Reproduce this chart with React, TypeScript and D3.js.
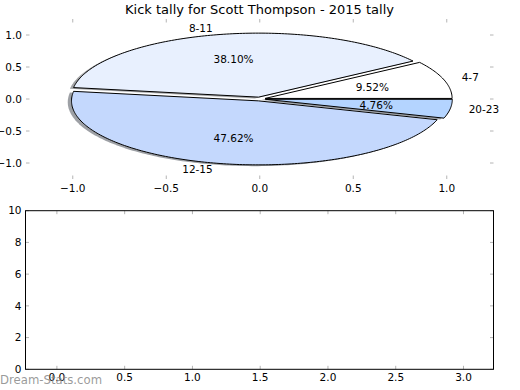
import React from 'react';
import * as d3 from 'd3';

// kick tally per distance band
const labels = ['4-7', '8-11', '12-15', '20-23'];
const kicks = [2, 8, 10, 1];
const sliceColors = ['#ffffff', '#e8f0fe', '#c4d8fd', '#b4d4ff'];
const explode = [0.03, 0.03, 0.03, 0.03];

const pieTicks = [-1, -0.5, 0, 0.5, 1];
const barXTicks = [0, 0.5, 1, 1.5, 2, 2.5, 3];
const barYTicks = [0, 2, 4, 6, 8, 10];

const W = 520;
const H = 390;
const FONT = 'DejaVu Sans';
const tickCol = '#b4b4b4';
const tickLen = 3.5;

export default function App() {
  // top panel (pie), frame hidden
  const px = d3.scaleLinear().domain([-1.25, 1.25]).range([26, 493.5]);
  const py = d3.scaleLinear().domain([-1.25, 1.25]).range([179, 19]);

  // bottom panel (empty)
  const bx = d3.scaleLinear().domain([-0.2317, 3.2214]).range([25.5, 493.5]);
  const by = d3.scaleLinear().domain([0, 10]).range([369.3, 210.7]);

  const total = d3.sum(kicks);
  const arcs = d3.pie<number>().sort(null).startAngle(0).endAngle(2 * Math.PI)(kicks);

  const line = d3.line<[number, number]>().x(p => px(p[0])).y(p => py(p[1]));

  const wedges = arcs.map((a, i) => {
    const mid = (a.startAngle + a.endAngle) / 2;
    const cx = explode[i] * Math.cos(mid);
    const cy = explode[i] * Math.sin(mid);
    const n = Math.max(4, Math.ceil((a.endAngle - a.startAngle) / (Math.PI / 180)));
    const pts: [number, number][] = [[cx, cy]];
    for (let k = 0; k <= n; k++) {
      const t = a.startAngle + (a.endAngle - a.startAngle) * k / n;
      pts.push([cx + Math.cos(t), cy + Math.sin(t)]);
    }
    const shadowPts = pts.map(p => [p[0] - 0.02, p[1] - 0.02] as [number, number]);
    const c = d3.rgb(sliceColors[i]);
    const shadowCol = d3.rgb(c.r * 0.3, c.g * 0.3, c.b * 0.3).toString();
    return {
      path: line(pts) + 'Z',
      shadow: line(shadowPts) + 'Z',
      shadowCol,
      color: sliceColors[i],
      label: labels[i],
      lx: cx + 1.1 * Math.cos(mid),
      ly: cy + 1.1 * Math.sin(mid),
      tx: cx + 0.6 * Math.cos(mid),
      ty: cy + 0.6 * Math.sin(mid),
      pct: d3.format('.2f')(kicks[i] / total * 100) + '%',
    };
  });

  const fmt = d3.format('.1f');

  return (
    <svg width={W} height={H} style={{ position: 'absolute', left: 0, top: 0, background: '#fff' }}
      fontFamily={FONT}>
      <rect width={W} height={H} fill="#fff" />
      <text x={259.5} y={14} fontSize={13} textAnchor="middle">Kick tally for Scott Thompson - 2015 tally</text>

      {/* pie ticks */}
      <g stroke={tickCol} strokeWidth={1}>
        {pieTicks.map(t => (
          <g key={'px' + t}>
            <line x1={px(t)} x2={px(t)} y1={py.range()[1]} y2={py.range()[1] + tickLen} />
            <line x1={px(t)} x2={px(t)} y1={py.range()[0]} y2={py.range()[0] - tickLen} />
            <line y1={py(t)} y2={py(t)} x1={px.range()[0]} x2={px.range()[0] + tickLen} />
            <line y1={py(t)} y2={py(t)} x1={px.range()[1]} x2={px.range()[1] - tickLen} />
          </g>
        ))}
      </g>
      <g fontSize={10.5} fill="#000">
        {pieTicks.map(t => (
          <text key={'pxl' + t} x={px(t)} y={py.range()[0] + 6} dy="0.71em" textAnchor="middle">
            {fmt(t).replace('-', '\u2212')}
          </text>
        ))}
        {pieTicks.map(t => (
          <text key={'pyl' + t} x={px.range()[0] - 4} y={py(t)} dy="0.35em" textAnchor="end">
            {fmt(t).replace('-', '\u2212')}
          </text>
        ))}
      </g>

      {/* shadows then wedges */}
      {wedges.map((w, i) => (
        <path key={'s' + i} d={w.shadow} fill={w.shadowCol} fillOpacity={0.5} stroke="none" />
      ))}
      {wedges.map((w, i) => (
        <path key={'w' + i} d={w.path} fill={w.color} stroke="#000" strokeWidth={1} strokeLinejoin="miter" />
      ))}
      <g fontSize={10.5} fill="#000">
        {wedges.map((w, i) => (
          <text key={'l' + i} x={px(w.lx)} y={py(w.ly)} dy="0.35em" textAnchor={w.lx > 0 ? 'start' : 'end'}>
            {w.label}
          </text>
        ))}
        {wedges.map((w, i) => (
          <text key={'p' + i} x={px(w.tx)} y={py(w.ty)} dy="0.35em" textAnchor="middle">{w.pct}</text>
        ))}
      </g>

      {/* bottom empty axes */}
      <g stroke={tickCol} strokeWidth={1}>
        {barXTicks.map(t => (
          <g key={'bx' + t}>
            <line x1={bx(t)} x2={bx(t)} y1={by.range()[0]} y2={by.range()[0] - tickLen} />
            <line x1={bx(t)} x2={bx(t)} y1={by.range()[1]} y2={by.range()[1] + tickLen} />
          </g>
        ))}
        {barYTicks.map(t => (
          <g key={'by' + t}>
            <line y1={by(t)} y2={by(t)} x1={bx.range()[0]} x2={bx.range()[0] + tickLen} />
            <line y1={by(t)} y2={by(t)} x1={bx.range()[1]} x2={bx.range()[1] - tickLen} />
          </g>
        ))}
      </g>
      <rect x={bx.range()[0]} y={by.range()[1]} width={bx.range()[1] - bx.range()[0]}
        height={by.range()[0] - by.range()[1]} fill="none" stroke="#000" strokeWidth={1} />
      <g fontSize={10.5} fill="#000">
        {barXTicks.map(t => (
          <text key={'bxl' + t} x={bx(t)} y={by.range()[0] + 4} dy="0.71em" textAnchor="middle">{fmt(t)}</text>
        ))}
        {barYTicks.map(t => (
          <text key={'byl' + t} x={bx.range()[0] - 4} y={by(t)} dy="0.35em" textAnchor="end">{t}</text>
        ))}
      </g>

      <text x={0} y={384} fontSize={11.7} fill="#888" fillOpacity={0.85}>Dream-Stats.com</text>
    </svg>
  );
}
